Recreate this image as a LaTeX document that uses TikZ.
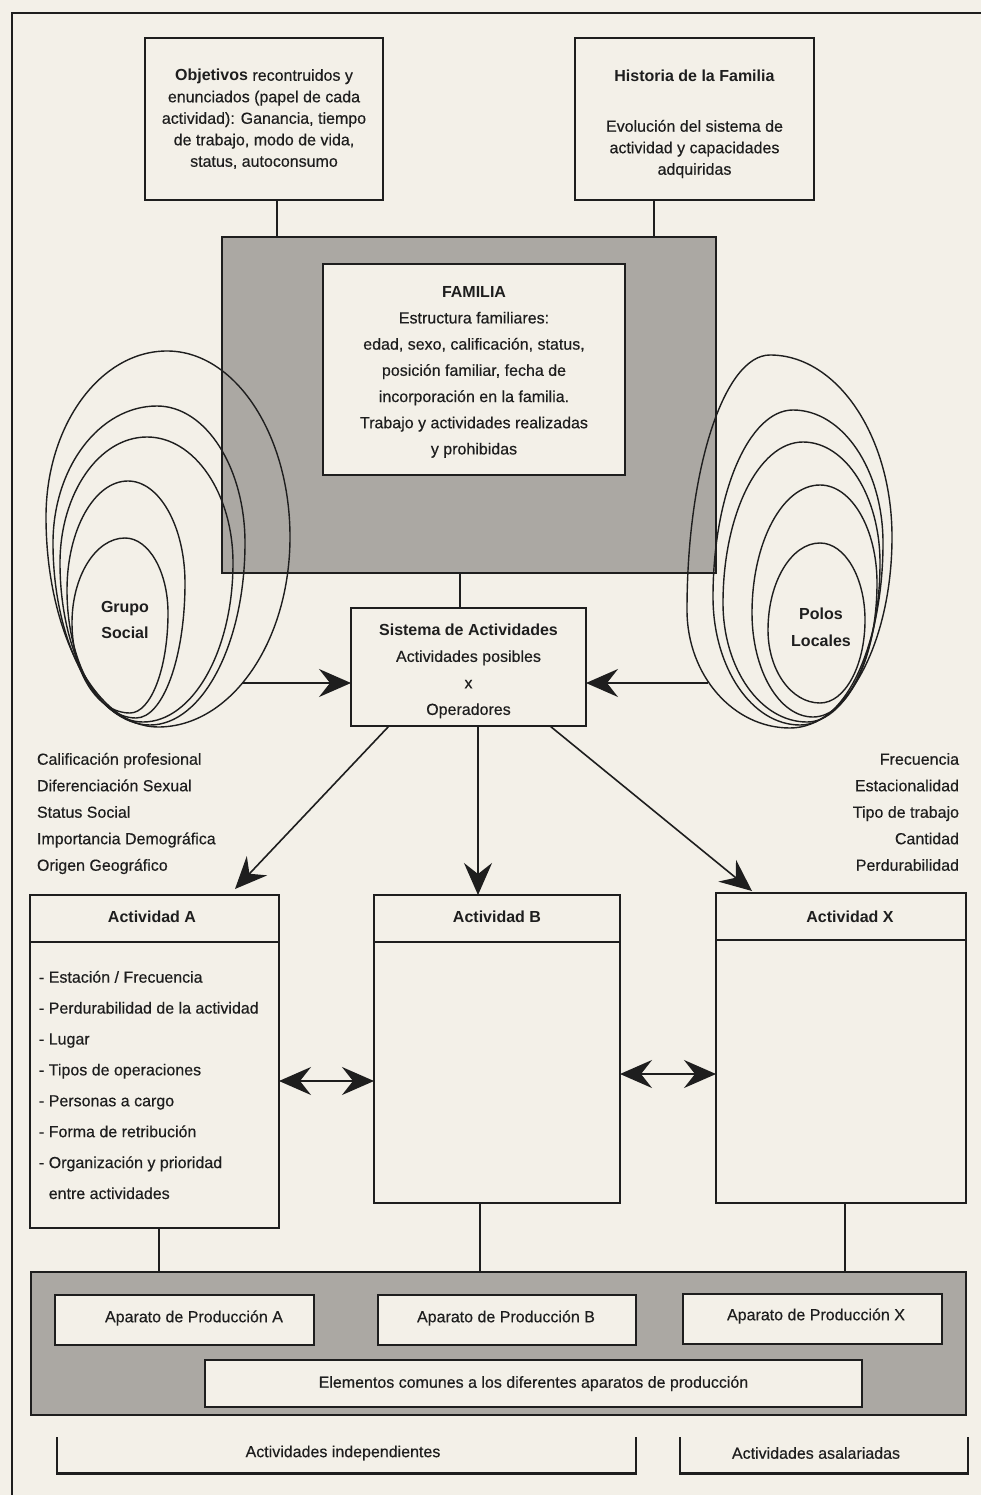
\documentclass[tikz,border=0pt]{standalone}
\usepackage{fontspec}
\setmainfont{Liberation Sans}[UprightFeatures={FakeBold=0.4}]
\usetikzlibrary{arrows.meta,shadows}

\definecolor{paper}{HTML}{F3F0E8}
\definecolor{screen}{HTML}{ABA8A3}
\definecolor{ink}{HTML}{1E1E1E}

% egg-shaped outline through its top, right, bottom and left extreme points
\newcommand{\drawegg}[8]{%
  \draw[eggline] (#1,#2)
    .. controls ({#1+0.5523*(#3-#1)},#2) and (#3,{#4-0.5523*(#4-#2)}) .. (#3,#4)
    .. controls (#3,{#4+0.5523*(#6-#4)}) and ({#5+0.5523*(#3-#5)},#6) .. (#5,#6)
    .. controls ({#5-0.5523*(#5-#7)},#6) and (#7,{#8+0.5523*(#6-#8)}) .. (#7,#8)
    .. controls (#7,{#8-0.5523*(#8-#2)}) and ({#1-0.5523*(#1-#7)},#2) .. (#1,#2) -- cycle;}

\begin{document}
\begin{tikzpicture}[x=1pt,y=-1pt,
  every node/.style={inner sep=0pt,outer sep=0pt,text=ink},
  txt/.style={font=\fontsize{16}{21.5}\selectfont,align=center},
  box/.style={draw=ink,line width=1.6pt,fill=paper,
    drop shadow={shadow xshift=1.2pt,shadow yshift=-1.2pt,fill=ink,opacity=1}},
  screenbox/.style={draw=ink,line width=1.2pt,fill=screen},
  conn/.style={draw=ink,line width=1.4pt},
  eggline/.style={draw=ink,line width=1.4pt},
  arr/.style={draw=ink,line width=1.6pt,-{Stealth[length=32pt,width=28pt,inset=11pt]}},
  darr/.style={draw=ink,line width=1.6pt,{Stealth[length=32pt,width=28pt,inset=11pt]}-{Stealth[length=32pt,width=28pt,inset=11pt]}},
]

% page and frame
\fill[paper] (0,0) rectangle (981,1495);
\useasboundingbox (0,0) rectangle (981,1495);
\draw[ink,line width=2.6pt] (12,1495) -- (12,13) -- (981,13);

% objectives and family history
\node[box,txt,minimum width=238pt,minimum height=162pt] (obj) at (264,119)
  {\textbf{Objetivos} recontruidos y\\ enunciados (papel de cada\\ actividad): Ganancia, tiempo\\ de trabajo, modo de vida,\\ status, autoconsumo};
\node[box,minimum width=239pt,minimum height=162pt] (hist) at (694.5,119) {};
\node[txt] (histtitle) at (694.5,76) {\textbf{Historia de la Familia}};
\node[txt] (histbody) at (694.5,149) {Evolución del sistema de\\ actividad y capacidades\\ adquiridas};

% family block
\node[screenbox,minimum width=494pt,minimum height=336pt] (fam) at (469,405) {};
\draw[conn] (obj.south -| 277,0) -- (fam.north -| 277,0);
\draw[conn] (hist.south -| 654,0) -- (fam.north -| 654,0);
\node[box,minimum width=302pt,minimum height=211pt] (famin) at (474,369.5) {};
\node[txt,font=\fontsize{16}{26.2}\selectfont] (famtxt) at (474,372)
  {\textbf{FAMILIA}\\ Estructura familiares:\\ edad, sexo, calificación, status,\\ posición familiar, fecha de\\ incorporación en la familia.\\ Trabajo y actividades realizadas\\ y prohibidas};

% social group rings
\drawegg{167}{351}{290}{537}{158}{727}{46}{517}
\drawegg{157}{406}{245}{543}{150}{725}{53}{543}
\drawegg{147}{437}{233}{563}{143}{722}{60}{563}
\drawegg{128}{481}{185}{583}{136}{718}{67}{590}
\drawegg{125}{538}{168}{613}{130}{713}{72}{623}
\node[txt,font=\fontsize{16}{25.5}\selectfont\bfseries] (grupo) at (125,620) {Grupo\\ Social};

% local poles rings
\drawegg{770}{355}{892}{537}{790}{728}{687}{610}
\drawegg{793}{410}{883}{543}{800}{725}{713}{597}
\drawegg{803}{442}{880}{563}{807}{722}{723}{603}
\drawegg{820}{485}{877}{583}{813}{717}{752}{613}
\drawegg{820}{543}{865}{620}{820}{703}{768}{630}
\node[txt,font=\fontsize{16}{27}\selectfont\bfseries] (polos) at (821,627) {Polos\\ Locales};

% activity system
\node[box,minimum width=235pt,minimum height=118pt] (sis) at (468.5,667) {};
\node[txt,font=\fontsize{16}{26.5}\selectfont] (sistxt) at (468.5,671)
  {\textbf{Sistema de Actividades}\\ Actividades posibles\\ x\\ Operadores};
\draw[conn] (fam.south -| 460,0) -- (sis.north -| 460,0);
\coordinate (gsout) at (242,683);
\coordinate (plout) at (708,683);
\draw[arr] (gsout) -- (sis.west |- gsout);
\draw[arr] (plout) -- (sis.east |- plout);

% criteria lists
\node[txt,align=left,anchor=west,font=\fontsize{16}{26.5}\selectfont] (crit) at (37,813.5)
  {Calificación profesional\\ Diferenciación Sexual\\ Status Social\\ Importancia Demográfica\\ Origen Geográfico};
\node[txt,align=right,anchor=east,font=\fontsize{16}{26.5}\selectfont] (traits) at (959,812)
  {Frecuencia\\ Estacionalidad\\ Tipo de trabajo\\ Cantidad\\ Perdurabilidad};

% activities
\node[box,minimum width=249pt,minimum height=333pt] (actA) at (154.5,1061.5) {};
\node[box,minimum width=246pt,minimum height=308pt] (actB) at (497,1049) {};
\node[box,minimum width=250pt,minimum height=310pt] (actX) at (841,1048) {};
\draw[conn] ([yshift=-47pt]actA.north west) -- ([yshift=-47pt]actA.north east);
\draw[conn] ([yshift=-47pt]actB.north west) -- ([yshift=-47pt]actB.north east);
\draw[conn] ([yshift=-47pt]actX.north west) -- ([yshift=-47pt]actX.north east);
\node[txt] (actAt) at (152,917) {\textbf{Actividad A}};
\node[txt] (actBt) at (497,917) {\textbf{Actividad B}};
\node[txt] (actXt) at (850,917) {\textbf{Actividad X}};
\node[txt,align=left,anchor=west,font=\fontsize{16}{30.9}\selectfont] (actAlist) at (39,1085)
  {- Estación / Frecuencia\\ - Perdurabilidad de la actividad\\ - Lugar\\ - Tipos de operaciones\\
   - Personas a cargo\\ - Forma de retribución\\ - Organización y prioridad\\ \phantom{- }entre actividades};

\coordinate (tipA) at (235,889);
\coordinate (tipX) at (752,891);
\draw[arr] (sis.south -| 389,0) -- (tipA);
\draw[arr] (sis.south -| 478,0) -- (actB.north -| 478,0);
\draw[arr] (sis.south -| 550,0) -- (tipX);
\draw[darr] (actA.east |- 0,1081) -- (actB.west |- 0,1081);
\draw[darr] (actB.east |- 0,1074) -- (actX.west |- 0,1074);

% production apparatus
\node[screenbox,minimum width=935pt,minimum height=143pt] (prod) at (498.5,1343.5) {};
\draw[conn] (actA.south -| 159,0) -- (prod.north -| 159,0);
\draw[conn] (actB.south -| 480,0) -- (prod.north -| 480,0);
\draw[conn] (actX.south -| 845,0) -- (prod.north -| 845,0);
\node[box,minimum width=259pt,minimum height=50pt] (apA) at (184.5,1320) {};
\node[box,minimum width=258pt,minimum height=50pt] (apB) at (507,1320) {};
\node[box,minimum width=259pt,minimum height=50pt] (apX) at (812.5,1319) {};
\node[txt] (apAt) at (194,1318) {Aparato de Producción A};
\node[txt] (apBt) at (506,1318) {Aparato de Producción B};
\node[txt] (apXt) at (816,1316) {Aparato de Producción X};
\node[box,txt,minimum width=657pt,minimum height=47pt] (common) at (533.5,1383.5)
  {Elementos comunes a los diferentes aparatos de producción};

% brackets for the two kinds of activity
\draw[ink,line width=1.8pt] (57,1437) -- (57,1473);
\draw[ink,line width=1.8pt] (636,1437) -- (636,1473);
\draw[ink,line width=3pt] (56,1473) -- (637,1473);
\draw[ink,line width=1.8pt] (680,1437) -- (680,1473);
\draw[ink,line width=1.8pt] (968,1437) -- (968,1473);
\draw[ink,line width=3pt] (679,1473) -- (969,1473);
\node[txt] (indep) at (343,1453) {Actividades independientes};
\node[txt] (asal) at (816,1453) {Actividades asalariadas};

\end{tikzpicture}
\end{document}
